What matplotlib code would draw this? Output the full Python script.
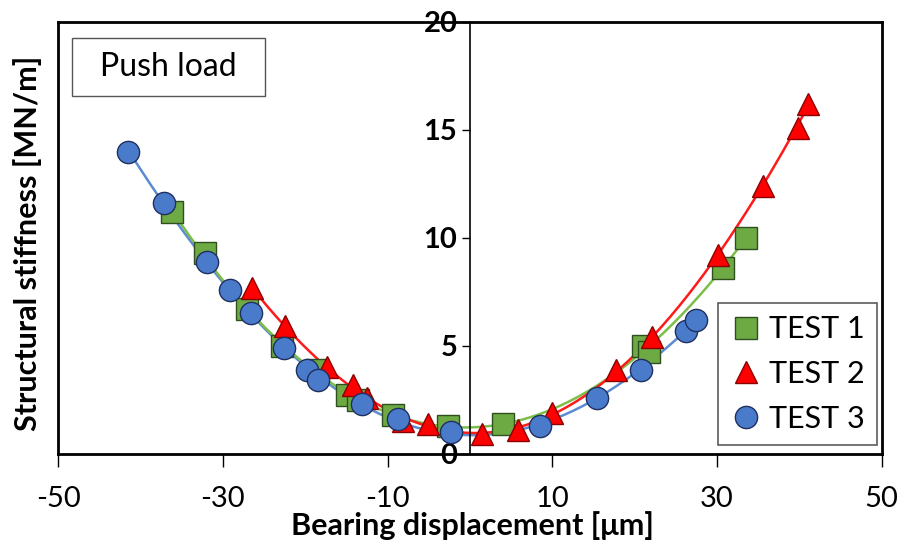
import matplotlib.pyplot as plt
import matplotlib.patches as mpatches
import numpy as np

plt.rcParams['font.family'] = ['Lato', 'DejaVu Sans']
plt.rcParams['axes.unicode_minus'] = False

# TEST 1 (green squares)
t1_x = [-36.2, -32.2, -27.1, -22.8, -18.6, -14.9, -13.6, -9.3, -2.7, 4.0, 21.0, 21.8, 30.7, 33.5]
t1_y = [11.2, 9.3, 6.7, 5.0, 3.9, 2.7, 2.5, 1.8, 1.3, 1.4, 5.0, 4.7, 8.6, 10.0]

# TEST 2 (red triangles)
t2_x = [-26.5, -22.5, -17.4, -14.2, -12.5, -8.1, -5.1, 1.5, 5.8, 10.0, 17.8, 22.1, 30.1, 35.6, 39.8, 41.0]
t2_y = [7.7, 5.9, 4.0, 3.2, 2.6, 1.5, 1.4, 0.9, 1.1, 1.9, 3.9, 5.4, 9.2, 12.4, 15.1, 16.2]

# TEST 3 (blue circles)
t3_x = [-41.5, -37.1, -31.9, -29.1, -26.6, -22.6, -19.8, -18.4, -13.1, -8.7, -2.3, 8.5, 15.4, 20.8, 26.2, 27.5]
t3_y = [14.0, 11.6, 8.9, 7.6, 6.5, 4.9, 3.9, 3.4, 2.3, 1.6, 1.0, 1.3, 2.6, 3.9, 5.7, 6.2]

xticks = [-50, -30, -10, 10, 30, 50]
yticks = [0, 5, 10, 15, 20]

fig = plt.figure(figsize=(9.08, 5.5), dpi=100)
ax = fig.add_axes([0.064, 0.175, 0.907, 0.785])


def trend(xv, yv, deg=4):
    c = np.polyfit(xv, yv, deg)
    xs = np.linspace(min(xv), max(xv), 200)
    return xs, np.polyval(c, xs)


# trend lines
ax.plot(*trend(t3_x, t3_y), '-', color='#5B8BD0', lw=1.8, zorder=2)
ax.plot(*trend(t1_x, t1_y), '-', color='#7DBE4A', lw=1.8, zorder=2)
ax.plot(*trend(t2_x, t2_y), '-', color='#FF1A1A', lw=1.8, zorder=2)

ms = 16
ax.plot(t1_x, t1_y, 's', ms=ms, color='#6EAA44', mec='#2F4F1F', mew=1, ls='none', label='TEST 1', zorder=3)
ax.plot(t2_x, t2_y, '^', ms=ms, color='#FF0000', mec='#8B0000', mew=1, ls='none', label='TEST 2', zorder=3)
ax.plot(t3_x, t3_y, 'o', ms=ms, color='#4A7BCB', mec='#1F2F5F', mew=1, ls='none', label='TEST 3', zorder=4)

ax.set_xlim(-50, 50)
ax.set_ylim(0, 20)
ax.set_xticks(xticks)
ax.set_yticks(yticks)

ax.spines['left'].set_position(('data', 0))
ax.spines['left'].set_linewidth(1.2)
for s in ['top', 'right', 'bottom']:
    ax.spines[s].set_linewidth(2)
ax.plot([0, 0], [0, 1], transform=ax.transAxes, color='k', lw=2, clip_on=False)

ax.tick_params(axis='x', direction='out', length=9, width=1, labelsize=21, pad=14)
ax.tick_params(axis='y', direction='out', length=6, width=1, labelsize=21, pad=3)
for lab in ax.get_yticklabels():
    lab.set_fontweight('bold')

fig.text(0.52, 0.045, 'Bearing displacement [μm]', fontsize=22, fontweight='bold',
         ha='center', va='center')
fig.text(0.03, 0.558, 'Structural stiffness [MN/m]', rotation=90, fontsize=22,
         fontweight='bold', ha='center', va='center')

# "Push load" label box
ax.add_patch(mpatches.Rectangle((0.017, 0.829), 0.234, 0.134, transform=ax.transAxes,
                                fc='white', ec='#555555', lw=1, zorder=5))
ax.text(0.134, 0.896, 'Push load', transform=ax.transAxes, fontsize=23,
        ha='center', va='center', zorder=6)

leg = ax.legend(loc='lower right', fontsize=22, frameon=True, fancybox=False,
                edgecolor='#333333', handletextpad=0.25, borderpad=0.4,
                handlelength=1.0, labelspacing=0.55, borderaxespad=0,
                bbox_to_anchor=(0.994, 0.02))
leg.get_frame().set_linewidth(1.2)

fig.savefig('out.png', dpi=100)
